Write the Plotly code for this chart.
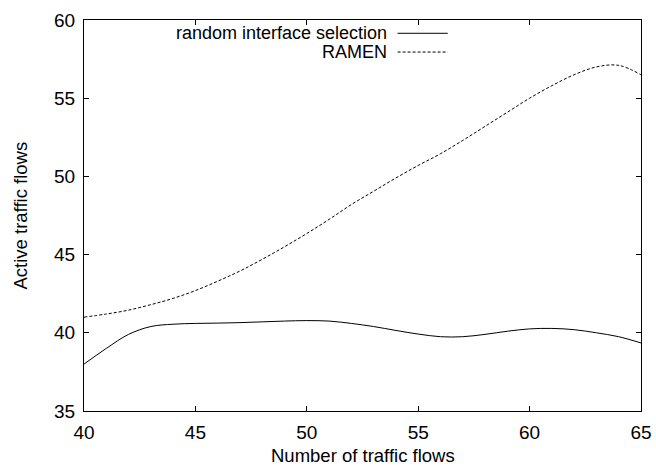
import plotly.graph_objects as go

x_flows = list(range(40, 66))
random_sel = [38.0, 39.0, 39.9, 40.4, 40.55, 40.6, 40.62, 40.65, 40.7, 40.75, 40.78, 40.75, 40.6,
              40.4, 40.15, 39.92, 39.75, 39.75, 39.9, 40.1, 40.25, 40.28, 40.2, 40.0, 39.75, 39.35]
ramen = [41.0, 41.2, 41.45, 41.8, 42.2, 42.7, 43.3, 43.95, 44.7, 45.5, 46.35, 47.25, 48.2,
         49.05, 49.9, 50.7, 51.45, 52.3, 53.2, 54.1, 55.0, 55.8, 56.5, 57.0, 57.1, 56.5]
series_names = ["random interface selection", "RAMEN"]
x_ticks = [40, 45, 50, 55, 60, 65]
y_ticks = [35, 40, 45, 50, 55, 60]
x_title = "Number of traffic flows"
y_title = "Active traffic flows"

FONT = "Liberation Sans, Arial, Helvetica, sans-serif"
FS = 19

fig = go.Figure()
fig.add_trace(go.Scatter(x=x_flows, y=random_sel, mode="lines", name=series_names[0],
                         line=dict(color="black", width=1, shape="spline")))
fig.add_trace(go.Scatter(x=x_flows, y=ramen, mode="lines", name=series_names[1],
                         line=dict(color="black", width=1, shape="spline", dash="3px,2px")))

# manual gnuplot-style legend (text right-aligned, sample to the right)
legend_rows = [(series_names[0], "solid", 0.966), (series_names[1], "3px,2px", 0.918)]
for name, dash, yy in legend_rows:
    fig.add_annotation(x=0.542, y=yy, xref="paper", yref="paper", text=name, showarrow=False,
                       xanchor="right", yanchor="middle", xshift=3,
                       font=dict(size=18, color="black", family=FONT))
    fig.add_shape(type="line", xref="paper", yref="paper", x0=0.563, x1=0.653, y0=yy, y1=yy,
                  line=dict(color="black", width=1, dash=dash))

# axis titles
fig.add_annotation(x=0.5, y=0, xref="paper", yref="paper", text=x_title, showarrow=False,
                   xanchor="center", yanchor="middle", yshift=-44, borderpad=0,
                   font=dict(size=18.5, color="black", family=FONT))
fig.add_annotation(x=0, y=0.5, xref="paper", yref="paper", text=y_title, showarrow=False,
                   xanchor="center", yanchor="middle", xshift=-64, textangle=-90,
                   font=dict(size=18.5, color="black", family=FONT))

axis_common = dict(showgrid=False, zeroline=False, showline=True, linecolor="black", linewidth=1,
                   mirror="allticks", ticks="inside", ticklen=5, tickcolor="black", tickwidth=1,
                   automargin=False, tickfont=dict(size=FS, color="black", family=FONT))

fig.update_xaxes(range=[40, 65], tickvals=x_ticks, ticklabelstandoff=4, **axis_common)
fig.update_yaxes(range=[35, 60], tickvals=y_ticks, ticklabelstandoff=4, **axis_common)

fig.update_layout(width=656, height=466, showlegend=False,
                  margin=dict(l=84, r=15, t=20, b=55),
                  paper_bgcolor="white", plot_bgcolor="white",
                  font=dict(family=FONT, color="black"))

fig.write_html("out.html")
